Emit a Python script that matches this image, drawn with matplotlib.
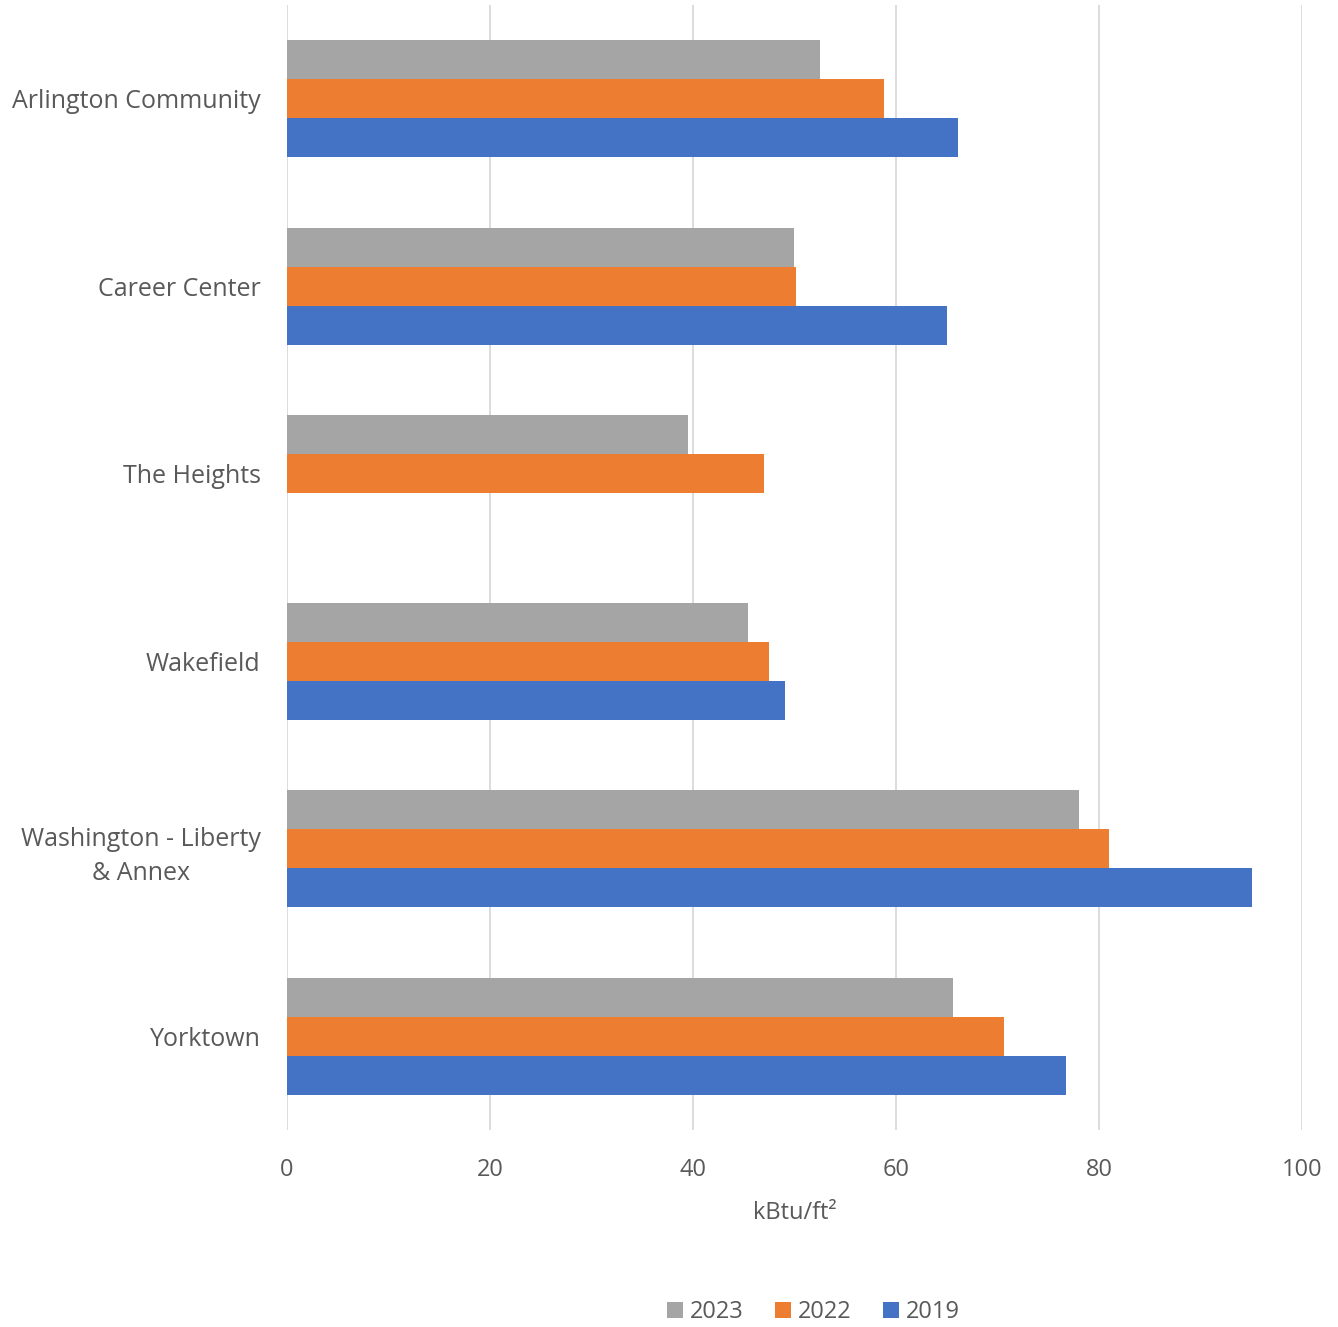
import matplotlib.pyplot as plt
import numpy as np

# valeurs (kBtu/ft²)
schools = ["Arlington Community", "Career Center", "The Heights", "Wakefield",
           "Washington - Liberty\n& Annex", "Yorktown"]
eui_2023 = [52.5, 50.0, 39.5, 45.4, 78.0, 65.6]
eui_2022 = [58.8, 50.2, 47.0, 47.5, 81.0, 70.6]
eui_2019 = [66.1, 65.0, np.nan, 49.1, 95.1, 76.8]
years = ["2023", "2022", "2019"]
x_ticks = [0, 20, 40, 60, 80, 100]

colors = {"2023": "#a5a5a5", "2022": "#ed7d31", "2019": "#4472c4"}
text_color = "#595959"
plt.rcParams['font.family'] = ['Open Sans', 'DejaVu Sans']

fig = plt.figure(figsize=(13.38, 13.27), dpi=100)
ax = fig.add_axes([0.2145, 0.1484, 0.7585, 0.8478])

y = np.arange(len(schools))
h = 0.208
series = [eui_2023, eui_2022, eui_2019]
for k, (yr, vals) in enumerate(zip(years, series)):
    ax.barh(y + (k - 1) * h, vals, height=h, color=colors[yr], label=yr,
            zorder=3)

ax.set_xlim(0, 100)
ax.set_ylim(len(schools) - 0.5, -0.5)
ax.set_xticks(x_ticks)
ax.set_yticks(y)
ax.set_yticklabels(schools, multialignment='center', linespacing=1.5)
ax.grid(axis='x', color='#d9d9d9', linewidth=1.3, zorder=0)
for s in ["top", "right", "bottom", "left"]:
    ax.spines[s].set_visible(False)
ax.tick_params(axis='both', length=0, labelsize=17, colors=text_color)
ax.tick_params(axis='y', labelsize=18, pad=19)
ax.tick_params(axis='x', pad=20)
ax.set_xlabel("kBtu/ft²", fontsize=17, color=text_color, labelpad=14)

handles, labels = ax.get_legend_handles_labels()
fig.legend(handles, labels, loc='center', bbox_to_anchor=(0.608, 0.011),
           ncol=3, frameon=False, fontsize=17, labelcolor=text_color,
           handlelength=0.7, handleheight=0.7, handletextpad=0.3,
           columnspacing=1.3)

fig.savefig("out.png", dpi=100)
